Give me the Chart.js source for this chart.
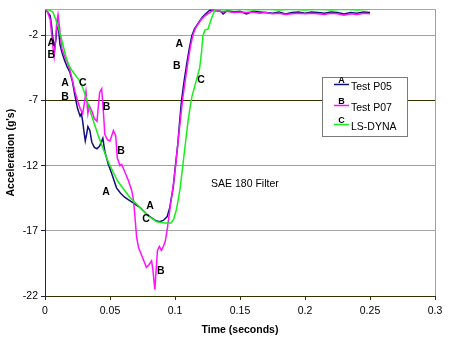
<!DOCTYPE html>
<html><head><meta charset="utf-8">
<script src="https://cdn.jsdelivr.net/npm/chart.js@4"></script>
<style>html,body{margin:0;padding:0;background:#fff}canvas{display:block}</style>
</head><body>
<canvas id="c" width="450" height="346"></canvas>
<script>
// ---- data ----
const seriesNames = ['Test P05', 'Test P07', 'LS-DYNA'];
const seriesLetters = ['A', 'B', 'C'];

const tA = [0,0.002,0.004,0.005,0.006,0.0075,0.0085,0.0095,0.0105,0.0115,0.013,0.015,0.017,0.019,0.021,0.023,0.025,0.027,0.028,0.029,0.030,0.031,0.032,0.033,0.0345,0.036,0.038,0.040,0.042,0.0445,0.046,0.0487,0.0513,0.055,0.058,0.061,0.064,0.067,0.070,0.073,0.076,0.079,0.082,0.085,0.088,0.091,0.094,0.096,0.0975,0.0987,0.100,0.102,0.1035,0.105,0.107,0.109,0.111,0.113,0.115,0.117,0.119,0.121,0.124,0.127,0.130,0.135,0.137,0.140,0.145,0.150,0.155,0.160,0.165,0.170,0.175,0.180,0.185,0.190,0.195,0.200,0.205,0.210,0.215,0.220,0.225,0.230,0.235,0.240,0.245,0.250];
const vA = [0,-0.2,-0.5,-1.2,-2.2,-3.0,-2.2,-1.0,-1.6,-2.7,-3.3,-3.9,-4.4,-4.8,-5.5,-6.6,-7.6,-8.2,-8.0,-8.6,-9.4,-10.1,-9.6,-9.0,-9.3,-10.2,-10.6,-10.7,-10.5,-9.9,-10.9,-11.9,-12.6,-13.7,-14.1,-14.4,-14.6,-14.8,-15.0,-15.2,-15.5,-15.8,-16.0,-16.2,-16.3,-16.2,-15.9,-15.2,-14.3,-13.6,-12.3,-10.5,-8.7,-7.0,-5.5,-4.2,-3.0,-2.0,-1.5,-1.2,-0.9,-0.6,-0.3,-0.05,-0.1,-0.15,-0.35,-0.1,-0.2,-0.15,-0.35,-0.15,-0.2,-0.25,-0.3,-0.2,-0.35,-0.25,-0.2,-0.3,-0.2,-0.25,-0.3,-0.2,-0.25,-0.35,-0.25,-0.3,-0.2,-0.25];

const tB = [0,0.002,0.004,0.005,0.006,0.007,0.008,0.009,0.010,0.011,0.012,0.013,0.015,0.017,0.019,0.021,0.023,0.025,0.027,0.029,0.030,0.0315,0.033,0.034,0.036,0.038,0.040,0.041,0.042,0.0436,0.045,0.046,0.048,0.050,0.0526,0.0544,0.0556,0.0577,0.059,0.0615,0.064,0.0667,0.068,0.069,0.0705,0.072,0.074,0.076,0.078,0.080,0.082,0.083,0.0845,0.0855,0.0865,0.088,0.0895,0.091,0.0925,0.094,0.096,0.0985,0.1005,0.102,0.104,0.106,0.108,0.110,0.112,0.114,0.116,0.118,0.120,0.123,0.126,0.129,0.132,0.136,0.140,0.145,0.150,0.155,0.160,0.165,0.170,0.175,0.180,0.185,0.190,0.195,0.200,0.205,0.210,0.215,0.220,0.225,0.230,0.235,0.240,0.245,0.250];
const vB = [0,-0.2,-0.8,-1.8,-2.8,-3.6,-2.5,-1.0,-0.4,-1.2,-2.2,-3.0,-3.6,-4.0,-4.6,-5.4,-6.3,-7.0,-7.6,-8.0,-7.4,-6.3,-8.0,-7.4,-7.8,-8.4,-8.6,-7.5,-6.4,-6.1,-8.0,-9.6,-10.0,-10.1,-9.3,-9.7,-11.4,-12.0,-11.9,-12.5,-13.1,-13.9,-14.6,-15.7,-17.5,-18.3,-18.8,-19.3,-19.8,-19.6,-19.3,-20.0,-21.5,-20.0,-18.5,-18.2,-18.5,-18.2,-17.8,-16.9,-15.4,-13.6,-12.0,-10.5,-8.6,-6.8,-5.4,-4.0,-2.8,-1.9,-1.4,-1.1,-0.8,-0.5,-0.3,-0.1,-0.1,-0.2,-0.15,-0.25,-0.2,-0.25,-0.2,-0.3,-0.25,-0.35,-0.3,-0.4,-0.35,-0.3,-0.35,-0.3,-0.35,-0.4,-0.3,-0.35,-0.45,-0.35,-0.4,-0.3,-0.35];

const tC = [0,0.003,0.006,0.008,0.010,0.012,0.014,0.016,0.018,0.020,0.023,0.026,0.029,0.032,0.035,0.038,0.041,0.044,0.047,0.050,0.053,0.056,0.059,0.062,0.065,0.068,0.071,0.074,0.077,0.080,0.083,0.086,0.089,0.092,0.095,0.097,0.099,0.101,0.1025,0.104,0.106,0.108,0.110,0.1115,0.113,0.1155,0.119,0.1205,0.1215,0.123,0.1255,0.128,0.131,0.14,0.15,0.16,0.17,0.18,0.19,0.20,0.21,0.22,0.23,0.24,0.25];
const vC = [0,-0.05,-0.2,-0.7,-1.3,-2.0,-2.8,-3.6,-4.2,-4.6,-5.0,-5.4,-6.0,-6.9,-7.9,-8.8,-9.7,-10.5,-11.3,-12.0,-12.6,-13.2,-13.6,-14.0,-14.4,-14.7,-15.0,-15.3,-15.6,-15.9,-16.1,-16.3,-16.35,-16.4,-16.4,-16.4,-16.1,-15.4,-14.6,-13.7,-12.0,-10.3,-8.6,-7.6,-6.7,-5.8,-4.5,-3.2,-2.0,-1.6,-1.5,-0.7,0,-0.05,0,-0.05,0,-0.05,0,-0.05,0,-0.05,0,-0.05,0];

const xTicks = [0, 0.05, 0.1, 0.15, 0.2, 0.25, 0.3];
const xTickLabels = ['0', '0.05', '0.1', '0.15', '0.2', '0.25', '0.3'];
const yTicks = [-22, -17, -12, -7, -2];
const yMin = -22, yMax = 0;
const xTitle = 'Time (seconds)';
const yTitle = "Acceleration (g's)";
const noteText = 'SAE 180 Filter';
const notePos = [0.1538, -13.4];
// curve identification letters: [letter, time, acceleration]
const curveLabels = [
  ['A', 0.0049, -2.6], ['B', 0.0049, -3.55],
  ['A', 0.0154, -5.65], ['B', 0.0154, -6.7], ['C', 0.029, -5.65],
  ['B', 0.0474, -7.5], ['B', 0.0585, -10.9], ['A', 0.0469, -14.0],
  ['A', 0.0808, -15.1], ['C', 0.0777, -16.1], ['B', 0.089, -20.1],
  ['A', 0.1033, -2.66], ['B', 0.1013, -4.37], ['C', 0.12, -5.46]
];

// ---- styles ----
const colors = ['#10107a', '#ff10ff', '#18ee18'];
const FONT = '"Liberation Sans", Arial, sans-serif';
const gridColorFor = {'-22':'#333300','-17':'#a4a4a4','-12':'#a0a090','-7':'#333300','-2':'#a0a0b0','0':'#a8a8a0'};

const mk = (t, v) => t.map((x, i) => ({x, y: v[i]}));
const datasets = [mk(tA, vA), mk(tB, vB), mk(tC, vC)].map((d, i) => ({
  label: seriesNames[i], data: d, borderColor: colors[i], backgroundColor: colors[i],
  borderWidth: 1.5, pointRadius: 0, tension: 0, fill: false, order: [2, 1, 0][i]
}));

const overlay = {
  id: 'overlay',
  afterDatasetsDraw(chart) {
    const {ctx, scales: {x, y}} = chart;
    ctx.save();
    ctx.fillStyle = '#000';
    ctx.textAlign = 'center';
    ctx.textBaseline = 'middle';
    ctx.font = 'bold 10.5px ' + FONT;
    curveLabels.forEach(([s, t, v]) => ctx.fillText(s, x.getPixelForValue(t), y.getPixelForValue(v)));
    ctx.font = '10.5px ' + FONT;
    ctx.fillText(noteText, x.getPixelForValue(notePos[0]), y.getPixelForValue(notePos[1]));
    // legend box
    const bx = 322, by = 77, bw = 85, bh = 59;
    ctx.fillStyle = '#fff';
    ctx.fillRect(bx, by, bw, bh);
    ctx.strokeStyle = '#7a7a7a';
    ctx.lineWidth = 1;
    ctx.strokeRect(bx + 0.5, by + 0.5, bw, bh);
    const rows = [84.5, 105.5, 124.5];
    seriesNames.forEach((name, i) => {
      const ly = rows[i];
      ctx.strokeStyle = colors[i];
      ctx.lineWidth = 1.5;
      ctx.beginPath(); ctx.moveTo(334, ly); ctx.lineTo(349, ly); ctx.stroke();
      ctx.fillStyle = '#000';
      ctx.font = 'bold 9px ' + FONT;
      ctx.textAlign = 'center'; ctx.textBaseline = 'alphabetic';
      ctx.fillText(seriesLetters[i], 341.5, ly - 1.5);
      ctx.font = '10.5px ' + FONT;
      ctx.textAlign = 'left'; ctx.textBaseline = 'middle';
      ctx.fillText(name, 351, ly + 2.5);
    });
    ctx.restore();
  }
};

new Chart(document.getElementById('c'), {
  type: 'line',
  data: {datasets},
  plugins: [overlay],
  options: {
    responsive: false, animation: false, devicePixelRatio: 1,
    layout: {padding: {top: 8, right: 15, left: 0, bottom: 0}},
    plugins: {legend: {display: false}, tooltip: {enabled: false}},
    scales: {
      x: {
        type: 'linear', min: 0, max: 0.3,
        afterBuildTicks: s => { s.ticks = xTicks.map(v => ({value: v})); },
        afterFit: s => { s.height = 50; },
        ticks: {autoSkip: false, maxRotation: 0, padding: 5, color: '#000',
          font: {family: FONT, size: 10.5}, callback: (v, i) => xTickLabels[i]},
        grid: {drawOnChartArea: true, tickLength: 4,
          color: c => (c.tick && c.tick.value === 0.3) ? '#a0a0a0' : 'rgba(0,0,0,0)',
          tickColor: '#333300'},
        border: {display: true, color: '#333300', width: 1},
        title: {display: true, text: xTitle, color: '#000', padding: {top: 0, bottom: 10},
          font: {family: FONT, size: 10.5, weight: 'bold'}}
      },
      y: {
        type: 'linear', min: yMin, max: yMax,
        afterBuildTicks: s => { s.ticks = yTicks.concat([yMax]).map(v => ({value: v})); },
        afterFit: s => { s.width = 45; },
        ticks: {autoSkip: false, padding: 3, color: '#000',
          font: {family: FONT, size: 10.5}, callback: v => (v === yMax ? '' : String(v))},
        grid: {tickLength: 4,
          color: c => (c.tick ? (gridColorFor[String(c.tick.value)] || '#a0a0a0') : '#a0a0a0'),
          tickColor: c => (c.tick && c.tick.value === yMax) ? 'rgba(0,0,0,0)' : '#202050'},
        border: {display: true, color: '#202050', width: 1},
        title: {display: true, text: yTitle, color: '#000', padding: {top: 5, bottom: 0},
          font: {family: FONT, size: 10.5, weight: 'bold'}}
      }
    }
  }
});
</script>
</body></html>
